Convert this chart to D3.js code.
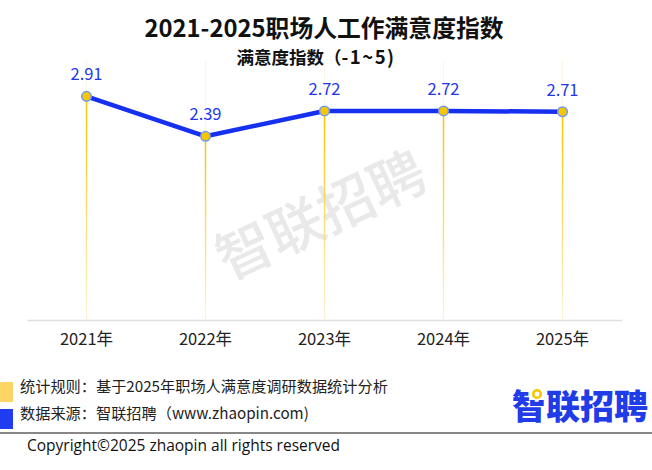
<!DOCTYPE html>
<html><head><meta charset="utf-8">
<script src="https://cdn.jsdelivr.net/npm/d3@7"></script>
<style>body{margin:0;background:#fff;}svg{display:block;font-family:"Noto Sans CJK SC","Noto Sans",sans-serif;}</style>
</head><body>
<svg id="c" width="652" height="470"></svg>
<script>
const categories = ["2021年","2022年","2023年","2024年","2025年"];
const values = [2.91, 2.39, 2.72, 2.72, 2.71];
const valueLabels = ["2.91","2.39","2.72","2.72","2.71"];
const title = "2021-2025职场人工作满意度指数";
const subtitleMain = "满意度指数";
const subtitleParen = "（";
const subtitleRange = "-1~5)";
const notes = ["统计规则：基于2025年职场人满意度调研数据统计分析","数据来源：智联招聘（www.zhaopin.com)"];

const svg = d3.select("#c");
const x = d3.scaleBand().domain(categories).range([27, 622]);
const y = d3.scaleLinear().domain([0, 3.5]).range([320, 51]);
const cx = d => x(d) + x.bandwidth()/2;

const defs = svg.append("defs");
const g = defs.append("linearGradient").attr("id","drop").attr("x1",0).attr("y1",0).attr("x2",0).attr("y2",1);
g.append("stop").attr("offset","0%").attr("stop-color","#f7c600").attr("stop-opacity",1);
g.append("stop").attr("offset","100%").attr("stop-color","#f7c600").attr("stop-opacity",0.05);

// watermark
svg.append("text").attr("transform","translate(323,220) rotate(-25)")
  .attr("text-anchor","middle").attr("dominant-baseline","middle")
  .attr("font-size",56).attr("font-weight",500).attr("fill","#e9e9e9").text("智联招聘");

// title
svg.append("text").attr("x",324).attr("y",37).attr("text-anchor","middle")
  .attr("font-size",23.8).attr("font-weight",700).attr("fill","#111").text(title);
const st = svg.append("text").attr("x",316).attr("y",64).attr("text-anchor","middle")
  .attr("font-size",17.5).attr("font-weight",700).attr("fill","#111");
st.append("tspan").text(subtitleMain);
st.append("tspan").text(subtitleParen);
st.append("tspan").attr("letter-spacing",1.5).attr("font-size",18.5).text(subtitleRange);

// faint vertical grid at category centres
svg.append("g").selectAll("line").data(categories).join("line")
  .attr("x1",cx).attr("x2",cx).attr("y1",60).attr("y2",320)
  .attr("stroke","#fbf6e6").attr("stroke-width",1);

// drop lines
svg.append("g").selectAll("rect").data(values).join("rect")
  .attr("x",(d,i)=>cx(categories[i])-0.75).attr("width",1.5)
  .attr("y",d=>y(d)).attr("height",d=>320-y(d)).attr("fill","url(#drop)");

// axis
const ax = svg.append("g").attr("transform","translate(0,320)").call(d3.axisBottom(x).tickSize(0).tickPadding(13));
ax.select(".domain").attr("stroke","#e0e0e0").attr("stroke-width",1.5);
ax.selectAll("text").attr("font-size",16.5).attr("fill","#222").attr("font-family",'"Noto Sans CJK SC",sans-serif');

// line
const line = d3.line().x((d,i)=>cx(categories[i])).y(d=>y(d));
svg.append("path").datum(values).attr("d",line).attr("fill","none")
  .attr("stroke","#1630f0").attr("stroke-width",4.5).attr("stroke-linejoin","round");

// points
svg.append("g").selectAll("circle").data(values).join("circle")
  .attr("cx",(d,i)=>cx(categories[i])).attr("cy",d=>y(d)).attr("r",4.8)
  .attr("fill","#f7c600").attr("stroke","#6f9cf0").attr("stroke-width",1.5);

// labels
svg.append("g").selectAll("text").data(values).join("text")
  .attr("x",(d,i)=>cx(categories[i])).attr("y",d=>y(d)-16).attr("text-anchor","middle")
  .attr("font-size",16.5).attr("fill","#2236f0").text((d,i)=>valueLabels[i]);

// footer legend squares
svg.append("rect").attr("x",0).attr("y",382).attr("width",13).attr("height",20).attr("fill","#fdd565");
svg.append("rect").attr("x",0).attr("y",409).attr("width",13).attr("height",20).attr("fill","#1f3cf0");
svg.selectAll(".note").data(notes).join("text").attr("class","note")
  .attr("x",20).attr("y",(d,i)=>392+i*27).attr("font-size",15.2).attr("fill","#222").text(d=>d);

// logo
svg.append("text").attr("x",648).attr("y",419).attr("text-anchor","end")
  .attr("font-size",34).attr("font-weight",900).attr("fill","#1f3ce8").text("智联招聘");
svg.append("rect").attr("x",529).attr("y",388).attr("width",15).attr("height",12).attr("fill","#fff");
svg.append("circle").attr("cx",537).attr("cy",394).attr("r",3.8).attr("fill","#fff")
  .attr("stroke","#f7c600").attr("stroke-width",2.6);

// divider & copyright
svg.append("line").attr("x1",0).attr("x2",652).attr("y1",433).attr("y2",433).attr("stroke","#111").attr("stroke-width",1.2);
svg.append("text").attr("x",27).attr("y",451).attr("font-size",15.5).attr("fill","#111")
  .attr("font-family",'"Open Sans","Noto Sans",sans-serif').text("Copyright©2025 zhaopin all rights reserved");
</script>
</body></html>
